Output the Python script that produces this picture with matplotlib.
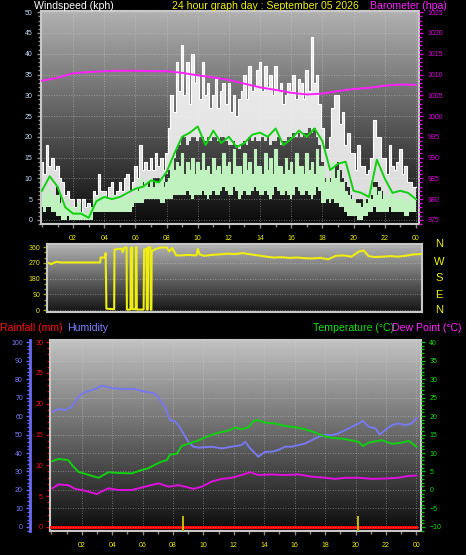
import numpy as np
import matplotlib.pyplot as plt
from matplotlib.colors import LinearSegmentedColormap
from matplotlib.ticker import MultipleLocator

plt.rcParams['font.family'] = ['Liberation Sans', 'DejaVu Sans']

# ---- wind, 10 minute samples from 00:00 to 24:00 (kph) ----
# gust band (top / bottom of the white trace)
gust_hi = [14, 11, 18, 13, 15, 12,
           13, 10, 9, 6, 7, 5,
           5, 3, 5, 2, 5, 3,
           4, 3, 7, 6, 11, 7,
           7, 5, 8, 9, 6, 7,
           9, 7, 10, 11, 7, 9,
           13, 10, 18, 12, 14, 12,
           15, 12, 16, 13, 15, 12,
           16, 22, 30, 26, 38, 31,
           42, 30, 38, 28, 40, 33,
           35, 29, 38, 30, 33, 27,
           30, 34, 27, 31, 33, 28,
           33, 26, 30, 25, 29, 31,
           35, 29, 37, 31, 32, 36,
           38, 31, 37, 32, 35, 30,
           37, 31, 33, 28, 30, 33,
           31, 35, 29, 34, 33, 29,
           36, 31, 44, 33, 35, 28,
           22, 17, 17, 20, 27, 30,
           30, 23, 26, 18, 21, 16,
           16, 12, 18, 13, 13, 11,
           12, 15, 24, 20, 20, 15,
           15, 11, 18, 13, 12, 14,
           17, 11, 13, 9, 9, 8,
           8]
gust_lo = [6, 5, 7, 6, 5, 4,
           8, 6, 3, 1, 1, 0,
           0, 0, 0, 0, 0, 0,
           0, 0, 4, 4, 5, 4,
           4, 4, 4, 4, 4, 4,
           5, 5, 5, 5, 5, 6,
           7, 8, 8, 9, 9, 9,
           10, 10, 10, 10, 9, 9,
           11, 12, 15, 15, 17, 18,
           20, 20, 18, 19, 20, 20,
           19, 20, 20, 19, 20, 19,
           20, 20, 19, 20, 20, 19,
           18, 18, 19, 18, 17, 18,
           19, 18, 20, 19, 20, 19,
           19, 20, 19, 20, 18, 19,
           19, 20, 18, 19, 19, 20,
           20, 21, 20, 21, 20, 21,
           21, 22, 21, 22, 20, 18,
           14, 10, 9, 10, 12, 13,
           14, 12, 10, 9, 8, 6,
           5, 5, 5, 5, 5, 5,
           5, 6, 9, 9, 8, 7,
           6, 5, 6, 5, 5, 5,
           5, 5, 4, 4, 4, 4,
           4]
# wind speed band (light green trace)
speed_hi = [7, 6, 8, 7, 6, 5,
            6, 4, 4, 3, 5, 3,
            3, 2, 4, 2, 2, 1,
            2, 3, 5, 5, 6, 5,
            6, 5, 5, 4, 6, 5,
            5, 5, 6, 5, 6, 6,
            8, 7, 10, 8, 9, 8,
            10, 8, 9, 9, 10, 8,
            9, 10, 15, 12, 14, 13,
            16, 11, 14, 12, 15, 11,
            14, 12, 16, 12, 13, 11,
            15, 12, 13, 11, 16, 13,
            14, 11, 17, 13, 13, 11,
            16, 12, 14, 11, 17, 13,
            13, 11, 16, 12, 15, 11,
            17, 13, 13, 11, 15, 12,
            14, 11, 16, 13, 13, 11,
            16, 12, 14, 11, 17, 13,
            13, 9, 10, 9, 14, 10,
            12, 9, 9, 7, 6, 5,
            5, 4, 4, 3, 5, 4,
            6, 5, 8, 6, 7, 5,
            6, 5, 7, 6, 5, 5,
            6, 5, 5, 4, 6, 5,
            5]
speed_lo = [3, 2, 3, 3, 2, 2,
            1, 1, 0, 0, 1, 0,
            0, 0, 0, 0, 0, 0,
            0, 0, 2, 2, 2, 2,
            2, 2, 2, 2, 2, 2,
            2, 2, 2, 2, 2, 3,
            4, 4, 4, 4, 5, 5,
            5, 5, 5, 5, 4, 4,
            5, 5, 5, 6, 6, 6,
            6, 6, 7, 6, 5, 6,
            6, 6, 7, 6, 5, 6,
            7, 6, 6, 7, 8, 7,
            6, 6, 8, 7, 5, 6,
            7, 6, 6, 7, 8, 7,
            6, 6, 7, 6, 5, 6,
            8, 7, 6, 6, 7, 6,
            5, 6, 8, 7, 6, 6,
            7, 6, 5, 6, 8, 7,
            4, 4, 5, 4, 5, 4,
            4, 3, 3, 2, 1, 1,
            1, 1, 0, 0, 1, 1,
            2, 2, 3, 2, 2, 2,
            2, 2, 3, 2, 2, 2,
            2, 2, 1, 1, 2, 2,
            2]
t10 = np.arange(len(gust_hi)) / 6.0

# average wind, 30 minute samples
avg_wind = [7, 10.5, 8, 3, 1.5, 1.5, 0.5, 4.5, 5.5, 5, 5.5, 6.5, 7.5, 8, 9.5, 9,
            11.5, 16, 20, 21, 22.5, 18, 21.5, 18.5, 20, 17.5, 18.5, 20.5, 21, 20,
            22, 18, 19.5, 21.5, 20, 22, 19, 12, 13.5, 14, 7, 6.5, 5.5, 14.5, 10,
            6.5, 7, 6.5, 5]
t30 = np.arange(len(avg_wind)) / 2.0

# barometer, hourly (hpa)
baro = [1008.5, 1009.2, 1010.3, 1010.6, 1010.8, 1010.9, 1010.9, 1010.8, 1010.8,
        1010.4, 1009.8, 1009.3, 1008.7, 1007.8, 1006.9, 1006.3, 1005.6, 1005.2,
        1005.4, 1006.0, 1006.5, 1006.8, 1007.3, 1007.6, 1007.5]
t_baro = np.arange(len(baro))

# ---- wind direction (degrees) ----
dir_t = [0.0, 0.15, 0.3, 0.5, 0.7, 3.3, 3.32, 3.6, 3.65, 3.7, 4.2, 4.22, 4.5, 4.7,
         4.75, 4.85, 5.0, 5.02, 5.25, 5.27, 5.36, 5.38, 5.58, 5.6, 5.64, 5.66,
         6.1, 6.13, 6.28, 6.3, 6.37, 6.39, 6.54, 6.56, 6.6, 6.62, 6.9, 7.2, 7.6,
         7.75, 7.95, 8.2, 8.5, 9.0, 9.5, 9.6, 9.7, 10.0, 10.5, 11.0, 11.5, 12.0,
         12.5, 13.0, 13.5, 14.0, 14.5, 15.0, 15.5, 16.0, 16.5, 17.0, 17.5, 18.0,
         18.5, 19.0, 19.5, 20.0, 20.3, 20.6, 21.0, 21.5, 22.0, 22.5, 23.0, 23.5,
         24.0]
dir_v = [268, 262, 270, 276, 272, 272, 300, 300, 326, 8, 5, 345, 350, 348,
         330, 356, 358, 3, 3, 354, 358, 5, 5, 360, 358, 3,
         3, 345, 350, 3, 3, 358, 358, 2, 2, 335, 350, 357, 357,
         335, 354, 312, 312, 315, 312, 350, 318, 310, 315, 318, 322, 320,
         325, 318, 312, 305, 300, 302, 298, 300, 296, 295, 298, 290,
         310, 312, 305, 335, 340, 308, 303, 305, 308, 305, 310, 318,
         320]

# ---- temperature / humidity / dew point ----
hum_t = [0.07, 0.46, 0.9, 1.34, 1.78, 2.2, 2.87, 3.3, 3.64, 4.0, 4.85, 5.5, 5.94,
         6.4, 6.8, 7.15, 7.48, 7.8, 8.1, 8.35, 8.68, 9.0, 9.34, 9.67, 10.55, 11.2,
         11.86, 12.5, 12.74, 13.07, 13.4, 13.6, 14.06, 14.5, 14.93, 15.37, 15.8,
         16.25, 16.7, 17.13, 17.57, 18.0, 18.44, 18.88, 19.32, 19.76, 20.2, 20.5,
         20.86, 21.3, 21.6, 21.95, 22.4, 22.8, 23.27, 23.7, 24.0]
hum_v = [62.3, 63.8, 63.2, 65, 70.5, 72.8, 74.6, 76.4, 75.8, 75, 74.6, 74.6, 73.5,
         72.8, 72.2, 68.6, 65, 57.8, 57.3, 55.1, 50.6, 46.1, 43.4, 42.9, 43.4, 42.5,
         43.4, 44.3, 46.1, 42.5, 39.8, 38, 40.7, 40.7, 41.6, 43.4, 43.4,
         44.3, 45.2, 47, 48.8, 49.7, 49.7, 50.6, 52.4, 54.2, 56, 57.3,
         54.2, 53.3, 50, 52.4, 55.1, 56, 55.1, 56, 58.8]

temp_t = [0.07, 0.46, 1.1, 1.45, 1.78, 2.43, 3.1, 3.4, 3.75, 4.4, 5.3, 5.94, 6.38,
          6.8, 7.26, 7.6, 7.8, 8.25, 8.57, 9.0, 9.67, 10.33, 10.99, 11.6, 12.1,
          12.5, 12.96, 13.3, 13.6, 14.06, 14.7, 15.37, 16.0, 16.7, 17.35, 17.9,
          18.44, 19.1, 19.76, 20.2, 20.5, 20.86, 21.5, 21.7, 22.4, 23.05, 23.5, 24.0]
temp_v = [7.8, 8.4, 8.1, 6.3, 4.9, 4.1, 3.3, 4.0, 4.8, 4.6, 4.5, 5.4, 5.9,
          6.8, 7.7, 8.1, 9.6, 9.8, 11.9, 12.5, 13.4, 14.6, 15.5, 16.0, 16.9,
          16.4, 17.0, 18.7, 18.9, 18.2, 18.0, 17.3, 17.0, 16.4, 15.5, 14.6,
          14.1, 13.9, 13.4, 13.0, 11.9, 12.8, 13.3, 13.5, 12.5, 12.8, 13.3, 11.7]

dew_t = [0.07, 0.46, 1.1, 1.56, 2.2, 2.98, 3.3, 3.75, 4.4, 5.3, 6.16, 7.04, 7.7,
         8.35, 8.8, 9.34, 9.9, 10.55, 11.2, 11.86, 12.5, 13.07, 13.6, 14.5, 15.37,
         16.25, 17.13, 18.0, 18.66, 19.32, 20.2, 21.07, 21.95, 22.8, 23.5, 24.0]
dew_v = [0.45, 1.5, 1.3, 0.3, -0.2, -1.1, -0.4, 0.45, 0.0, 0.0, 0.9, 1.8, 0.9,
         1.3, 0.9, 0.3, 0.9, 2.3, 3.0, 3.3, 4.05, 4.8, 4.05, 4.2, 4.05,
         4.2, 3.6, 3.3, 3.0, 3.3, 3.3, 3.0, 3.1, 3.3, 3.8, 3.9]

rain_t = [0, 24]
rain_v = [0, 0]
rate_t = [8.68, 20.15]
rate_v = [2.5, 2.5]

hour_labels = ['02', '04', '06', '08', '10', '12', '14', '16', '18', '20', '22', '00']

fig = plt.figure(figsize=(4.66, 5.55), dpi=100, facecolor='black')
GRID = dict(color='#d8d8d8', linestyle=(0, (1, 2)), linewidth=0.6, alpha=0.55)


def panel(rect, top, bottom):
    ax = fig.add_axes(rect)
    cmap = LinearSegmentedColormap.from_list('bg', [bottom, top])
    ax.imshow(np.linspace(0, 1, 256).reshape(-1, 1), cmap=cmap, aspect='auto',
              extent=[0, 1, 0, 1], transform=ax.transAxes, origin='lower', zorder=0)
    for s in ax.spines.values():
        s.set_color('#c8c8c8')
        s.set_linewidth(1.5)
    ax.tick_params(which='both', colors='#8c8c8c', length=3, width=1, labelsize=5)
    ax.tick_params(which='minor', length=2)
    return ax


# ---------------- top panel: wind + barometer ----------------
ax1 = panel([0.088, 0.5964, 0.811, 0.3838], '#b2b2b2', '#0a0a0a')
ax1.fill_between(t10, gust_lo, gust_hi, step='mid', color='white', alpha=0.85, lw=0, zorder=2)
ax1.plot(t10, gust_hi, color='white', lw=0.8, drawstyle='steps-mid', zorder=2)
ax1.fill_between(t10, speed_lo, speed_hi, step='mid', color='#bff2bf', lw=0, zorder=3)
ax1.plot(t10, speed_hi, color='#bff2bf', lw=0.8, drawstyle='steps-mid', zorder=3)
ax1.plot(t30, avg_wind, color='#10d010', lw=1.4, zorder=4)
ax1.set_xlim(-0.06, 24.2)
ax1.set_ylim(-1, 50.3)
ax1.set_xticks(range(2, 25, 2))
ax1.set_xticklabels(hour_labels, color='#e8e800')
ax1.xaxis.set_minor_locator(MultipleLocator(1))
ax1.set_yticks(range(0, 51, 5))
ax1.yaxis.set_minor_locator(MultipleLocator(1))
ax1.tick_params(axis='y', labelcolor='#c4e0ff', pad=3)
ax1.tick_params(axis='x', pad=5)
ax1.grid(True, axis='both', **GRID)

ax1b = ax1.twinx()
ax1b.plot(t_baro, baro, color='#ff22ff', lw=1.4, zorder=5)
ax1b.set_ylim(974, 1025.3)
ax1b.set_yticks(range(975, 1026, 5))
ax1b.yaxis.set_minor_locator(MultipleLocator(1))
ax1b.tick_params(which='both', colors='#e000e0', labelsize=5, length=3, width=1, pad=3)
ax1b.tick_params(which='minor', length=2)
for s in ax1b.spines.values():
    s.set_visible(False)

fig.text(0.073, 0.984, 'Windspeed (kph)', color='white', fontsize=7.6, va='baseline')
fig.text(0.369, 0.984, '24 hour graph day : September 05 2026', color='#f0f000',
         fontsize=7.6, va='baseline')
fig.text(0.793, 0.984, 'Barometer (hpa)', color='#ff22ff', fontsize=7.6, va='baseline')

# ---------------- middle panel: wind direction ----------------
ax2 = panel([0.1009, 0.4378, 0.8047, 0.1225], '#b4b4b4', '#141414')
ax2.plot(dir_t, dir_v, color='#eeee10', lw=1.5, zorder=3)
ax2.set_xlim(-0.13, 24.05)
ax2.set_ylim(-11, 377)
ax2.set_xticks([])
ax2.set_yticks([0, 90, 180, 270, 360])
ax2.yaxis.set_minor_locator(MultipleLocator(30))
ax2.tick_params(axis='y', which='both', colors='#a0a000', labelcolor='#e8e800', pad=2)
ax2.grid(True, axis='y', **GRID)
for letter, yy in zip(['N', 'W', 'S', 'E', 'N'], [244, 262, 278, 295, 310]):
    fig.text(0.942, 1 - yy / 555, letter, color='#f0f000', fontsize=8,
             ha='center', va='center')

# ---------------- bottom panel: temp / humidity / rain ----------------
ax3 = panel([0.1073, 0.0432, 0.796, 0.3441], '#c2c2c2', '#0c0c0c')
ax3.plot(rain_t, rain_v, color='#ff0000', lw=2.2, zorder=3)
ax3.bar(rate_t, rate_v, width=0.14, bottom=-0.66, color='#b8b800', lw=0, zorder=3)
ax3.set_xlim(-0.09, 24.3)
ax3.set_ylim(-0.66, 30.33)
ax3.set_xticks(range(2, 25, 2))
ax3.set_xticklabels(hour_labels, color='#e8e800')
ax3.xaxis.set_minor_locator(MultipleLocator(1))
ax3.tick_params(axis='x', pad=5)
ax3.set_yticks(range(0, 31, 5))
ax3.yaxis.set_minor_locator(MultipleLocator(1))
ax3.tick_params(axis='y', which='both', colors='#e00000', labelcolor='#ff1010', pad=2)
ax3.grid(True, axis='x', **GRID)

ax3h = ax3.twinx()
ax3h.plot(hum_t, hum_v, color='#7878f0', lw=1.4, zorder=4)
ax3h.set_ylim(-2.2, 101.1)
ax3h.yaxis.tick_left()
ax3h.set_yticks(range(0, 101, 10))
ax3h.yaxis.set_minor_locator(MultipleLocator(2))
ax3h.tick_params(which='both', colors='#6a6af0', labelcolor='#7c7cff', labelsize=5,
                 length=3, width=1, pad=2)
ax3h.tick_params(which='minor', length=2)
ax3h.grid(True, axis='y', **GRID)
for name, s in ax3h.spines.items():
    s.set_visible(name == 'left')
ax3h.spines['left'].set_position(('outward', 14.5))
ax3h.spines['left'].set_color('#6a6af0')
ax3h.spines['left'].set_linewidth(2)

ax3t = ax3.twinx()
ax3t.plot(temp_t, temp_v, color='#10d010', lw=1.4, zorder=5)
ax3t.plot(dew_t, dew_v, color='#dd10dd', lw=1.4, zorder=5)
ax3t.set_ylim(-11.1, 40.55)
ax3t.set_yticks(range(-10, 41, 5))
ax3t.yaxis.set_minor_locator(MultipleLocator(1))
ax3t.tick_params(which='both', colors='#10c010', labelcolor='#10e010', labelsize=5,
                 length=3, width=1, pad=3)
ax3t.tick_params(which='minor', length=2)
for s in ax3t.spines.values():
    s.set_visible(False)

fig.text(0.0, 0.4036, 'Rainfall (mm)', color='#ff1010', fontsize=7.6, va='baseline')
fig.text(0.144, 0.4036, 'Humidity', color='#8080ff', fontsize=7.6, va='baseline')
fig.text(0.672, 0.4036, 'Temperature (\u00b0C)', color='#10e010', fontsize=7.6, va='baseline')
fig.text(0.841, 0.4036, 'Dew Point (\u00b0C)', color='#ff22ff', fontsize=7.6, va='baseline')

fig.savefig('out.png', dpi=100, facecolor='black')
